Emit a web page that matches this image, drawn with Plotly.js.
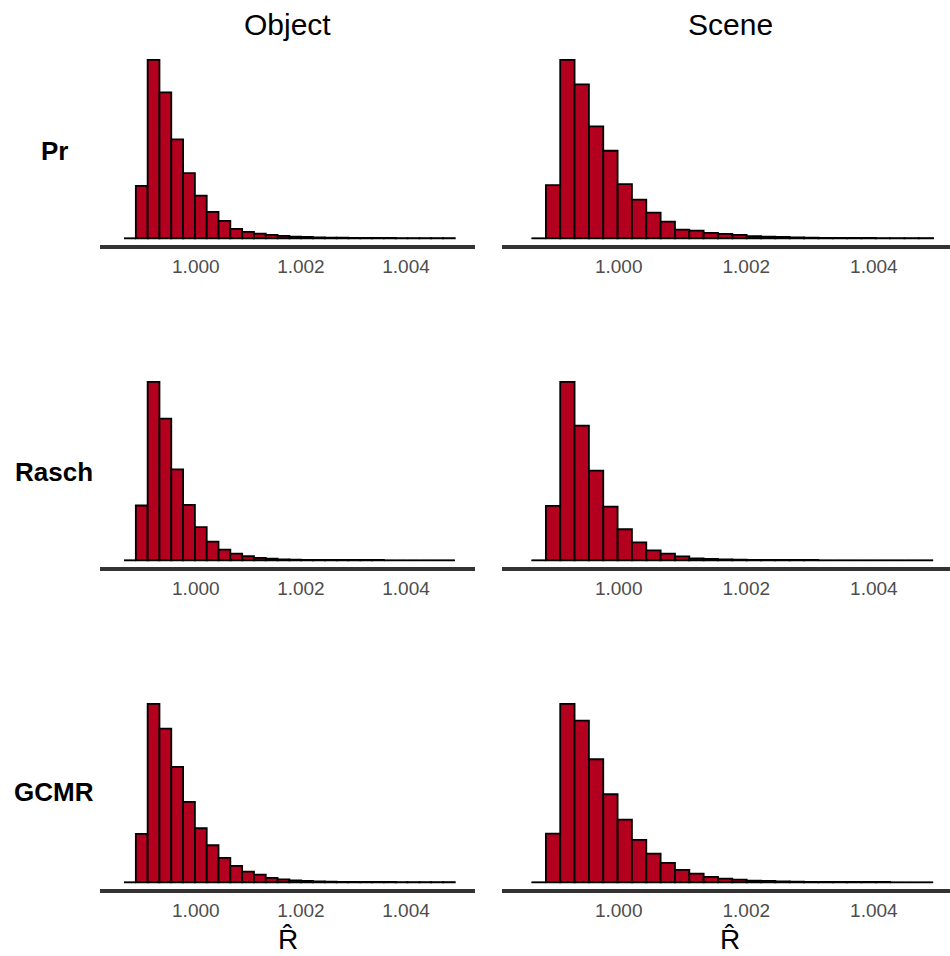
<!DOCTYPE html>
<html><head><meta charset="utf-8">
<script src="https://cdn.plot.ly/plotly-3.0.1.min.js"></script>
<style>html,body{margin:0;padding:0;background:#fff}#chart{width:950px;height:956px}</style>
</head><body><div id="chart"></div>
<script>
// ---- data ----
const binStart = 0.998634;
const binWidth = 0.0002248;
const models = ["Pr", "Rasch", "GCMR"];
const stimuli = ["Object", "Scene"];
const tickValues = [1.000, 1.002, 1.004];
const tickLabels = ["1.000", "1.002", "1.004"];
const axisTitle = "R\u0302";

const countsPrObject    = [0,1570,5340,4370,2960,1950,1280,790,520,280,190,140,100,70,50,40,30,20,20,15,10,10,10,5,5,5,5,5];
const countsPrScene     = [0,1590,5340,4610,3350,2620,1620,1160,770,500,260,230,160,130,100,60,50,40,30,20,15,10,10,10,5,5,5,5];
const countsRaschObject = [0,1640,5340,4240,2720,1660,990,560,320,200,120,70,50,30,20,15,10,10,10,10,10,10,0,0,0,0,0,0];
const countsRaschScene  = [0,1630,5350,4040,2690,1610,930,540,300,200,120,60,40,30,20,15,10,10,10,10,0,0,0,0,0,0,0,0];
const countsGcmrObject  = [0,1450,5350,4610,3460,2410,1620,1110,730,490,320,230,130,90,60,40,30,20,10,10,10,10,10,5,5,5,5,5];
const countsGcmrScene   = [0,1460,5350,4850,3690,2640,1880,1270,860,580,370,260,160,110,80,50,40,30,20,15,10,10,10,10,10,0,0,0];

const panelCounts = [
  [countsPrObject, countsPrScene],
  [countsRaschObject, countsRaschScene],
  [countsGcmrObject, countsGcmrScene]
];

// ---- layout geometry ----
const W = 950, H = 956;
const colPx = [[100, 475], [502, 950]];
const xRanges = [[0.998177, 1.005313], [0.998171, 1.005193]];
const rowTop0 = 51, rowBottom0 = 244.7, rowStep = 322;
const fillColor = "#b2001e";
const fontFam = "Liberation Sans, Arial, Helvetica, sans-serif";

const traces = [];
const layout = {
  width: W, height: H,
  margin: {l: 0, r: 0, t: 0, b: 0},
  paper_bgcolor: "#fff", plot_bgcolor: "#fff",
  showlegend: false,
  bargap: 0,
  font: {family: fontFam},
  annotations: []
};

for (let r = 0; r < 3; r++) {
  for (let c = 0; c < 2; c++) {
    const k = r * 2 + c + 1;
    const xa = "x" + (k === 1 ? "" : k), ya = "y" + (k === 1 ? "" : k);
    const counts = panelCounts[r][c];
    const centers = counts.map((_, i) => binStart + (i + 0.5) * binWidth);
    const maxC = Math.max(...counts);
    traces.push({
      type: "scatter", mode: "lines",
      x: [binStart, binStart + counts.length * binWidth], y: [0, 0],
      line: {color: "#000", width: 1.3},
      xaxis: xa, yaxis: ya, hoverinfo: "skip"
    });
    traces.push({
      type: "bar", x: centers, y: counts, width: binWidth,
      marker: {color: fillColor, line: {color: "#000", width: 1.8}},
      xaxis: xa, yaxis: ya
    });
    const top = rowTop0 + r * rowStep, bottom = rowBottom0 + r * rowStep;
    layout["xaxis" + (k === 1 ? "" : k)] = {
      domain: [colPx[c][0] / W, colPx[c][1] / W],
      range: xRanges[c],
      anchor: ya,
      showline: true, linecolor: "#333333", linewidth: 4,
      showgrid: false, zeroline: false, ticks: "",
      ticklabelstandoff: 1,
      tickmode: "array", tickvals: tickValues, ticktext: tickLabels,
      tickfont: {size: 19, color: "#4d4d4d", family: fontFam}
    };
    layout["yaxis" + (k === 1 ? "" : k)] = {
      domain: [1 - bottom / H, 1 - top / H],
      range: [-0.036 * maxC, 1.05 * maxC],
      anchor: xa, visible: false, showgrid: false, zeroline: false
    };
  }
}

const midX = (xRanges[0][0] + xRanges[0][1]) / 2;
stimuli.forEach((s, c) => {
  layout.annotations.push({
    text: s, xref: c === 0 ? "x" : "x2", yref: "paper",
    x: midX, y: 1 - 25 / H, xanchor: "center", yanchor: "middle",
    showarrow: false, font: {size: 30, color: "#000"}
  });
  layout.annotations.push({
    text: axisTitle, xref: c === 0 ? "x5" : "x6", yref: "paper",
    x: midX, y: 0, xanchor: "center", yanchor: "bottom", borderpad: 0,
    showarrow: false, font: {size: 28, color: "#000"}
  });
});
const rowLabelY = [151, 472, 792];
models.forEach((m, r) => {
  layout.annotations.push({
    text: "<b>" + m + "</b>", xref: "paper", yref: "paper",
    x: 54 / W, y: 1 - rowLabelY[r] / H, xanchor: "center", yanchor: "middle",
    showarrow: false, font: {size: 26, color: "#000"}
  });
});

Plotly.newPlot("chart", traces, layout, {staticPlot: true, displayModeBar: false});
</script>
</body></html>
